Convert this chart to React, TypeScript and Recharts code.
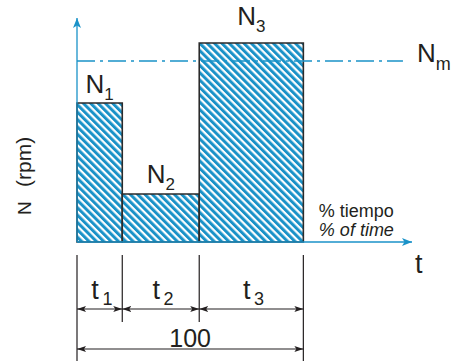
import React from "react";
import {
  ComposedChart,
  XAxis,
  YAxis,
  ReferenceArea,
  ReferenceLine,
  ReferenceDot,
} from "recharts";

const INK = "#231f20";
const BLUE = "#1a92c8";
const FONT = '"Liberation Sans", Arial, Helvetica, sans-serif';

// data
const segments = ["1", "2", "3"];
const timeShares = [20, 34, 46]; // % of time
const speeds = [139, 48, 199]; // N (rpm), arbitrary scale
const meanSpeed = 181;
const totalLabel = "100";
const timeAxisLabel = "t";
const timeCaption = ["% tiempo", "% of time"];
const speedAxisLabel = ["N", "(rpm)"];

// axis extents (arrow tips)
const X_MAX = 148;
const Y_MAX = 224;

const starts = timeShares.map((_, i) =>
  timeShares.slice(0, i).reduce((a, b) => a + b, 0)
);
const total = timeShares.reduce((a, b) => a + b, 0);
const edges = [...starts, total];
const rows = segments.map((s, i) => ({
  seg: s,
  start: starts[i],
  end: starts[i] + timeShares[i],
  speed: speeds[i],
}));

// layout constants (label lifts in y units)
const labelLift = [10, 11, 18];
const DIM_Y = -67;
const TOTAL_Y = -107;

type Part = { t: string; size: number; dy?: number; italic?: boolean };

const textAt =
  (parts: Part[], anchor: "start" | "middle" | "end" = "start", rotate = false) =>
  (p: any) =>
    (
      <text
        x={p.cx}
        y={p.cy}
        textAnchor={anchor}
        fill={INK}
        fontFamily={FONT}
        style={{ fontSize: parts[0].size }}
        transform={rotate ? `rotate(-90 ${p.cx} ${p.cy})` : undefined}
      >
        {parts.map((q, k) => (
          <tspan
            key={k}
            dy={q.dy}
            style={{ fontSize: q.size, fontStyle: q.italic ? "italic" : "normal" }}
          >
            {q.t}
          </tspan>
        ))}
      </text>
    );

const lineWith =
  (color: string, width: number, start?: string, end?: string, dash?: string) =>
  (p: any) =>
    (
      <line
        x1={p.x1}
        y1={p.y1}
        x2={p.x2}
        y2={p.y2}
        stroke={color}
        strokeWidth={width}
        strokeDasharray={dash}
        markerStart={start ? `url(#${start})` : undefined}
        markerEnd={end ? `url(#${end})` : undefined}
      />
    );

export default function App() {
  return (
    <div style={{ position: "absolute", left: 0, top: 0, background: "#fff" }}>
      <ComposedChart
        width={458}
        height={361}
        data={rows}
        margin={{ top: 18, right: 46, bottom: 119, left: 77 }}
      >
        <defs>
          <pattern
            id="hatch"
            patternUnits="userSpaceOnUse"
            width="5.2"
            height="5.2"
            patternTransform="rotate(-45)"
          >
            <rect width="5.2" height="5.2" fill="#fff" />
            <rect width="3" height="5.2" fill={BLUE} />
          </pattern>
          <marker
            id="blueArrow"
            markerUnits="userSpaceOnUse"
            markerWidth="11"
            markerHeight="8"
            refX="10"
            refY="4"
            orient="auto"
          >
            <path d="M0,0 L10,4 L0,8 L2.5,4 z" fill={BLUE} />
          </marker>
          <marker
            id="dimArrow"
            markerUnits="userSpaceOnUse"
            markerWidth="10"
            markerHeight="6"
            refX="9"
            refY="3"
            orient="auto-start-reverse"
          >
            <path d="M0,0 L9,3 L0,6 L2,3 z" fill={INK} />
          </marker>
        </defs>
        <XAxis type="number" dataKey="start" domain={[0, X_MAX]} hide allowDataOverflow />
        <YAxis type="number" domain={[0, Y_MAX]} hide allowDataOverflow />

        {/* axes with arrows */}
        <ReferenceLine
          segment={[{ x: 0, y: 0 }, { x: 0, y: Y_MAX }]}
          ifOverflow="visible"
          shape={lineWith(BLUE, 1.3, undefined, "blueArrow")}
        />
        <ReferenceLine
          segment={[{ x: 0, y: 0 }, { x: X_MAX, y: 0 }]}
          ifOverflow="visible"
          shape={lineWith(BLUE, 1.3, undefined, "blueArrow")}
        />

        {rows.map((r) => (
          <ReferenceArea
            key={r.seg}
            x1={r.start}
            x2={r.end}
            y1={0}
            y2={r.speed}
            fill="url(#hatch)"
            fillOpacity={1}
            stroke="#2b2b2b"
            strokeWidth={1.6}
            ifOverflow="visible"
          />
        ))}

        <ReferenceLine
          segment={[{ x: 0, y: meanSpeed }, { x: 144, y: meanSpeed }]}
          ifOverflow="visible"
          shape={lineWith(BLUE, 1.3, undefined, undefined, "18 5 3 5")}
        />

        {rows.map((r, i) => (
          <ReferenceDot
            key={"n" + r.seg}
            x={(r.start + r.end) / 2}
            y={r.speed + labelLift[i]}
            r={0}
            ifOverflow="visible"
            shape={textAt(
              [
                { t: "N", size: 26 },
                { t: r.seg, size: 17, dy: 7 },
              ],
              "middle"
            )}
          />
        ))}
        <ReferenceDot
          x={150.2}
          y={meanSpeed - 1}
          r={0}
          ifOverflow="visible"
          shape={textAt([
            { t: "N", size: 26 },
            { t: "m", size: 18, dy: 8 },
          ])}
        />
        <ReferenceDot
          x={140}
          y={25}
          r={0}
          ifOverflow="visible"
          shape={textAt([{ t: timeCaption[0], size: 18 }], "end")}
        />
        <ReferenceDot
          x={140}
          y={6}
          r={0}
          ifOverflow="visible"
          shape={textAt([{ t: timeCaption[1], size: 18, italic: true }], "end")}
        />
        <ReferenceDot
          x={149.3}
          y={-31}
          r={0}
          ifOverflow="visible"
          shape={textAt([{ t: timeAxisLabel, size: 27 }])}
        />
        <ReferenceDot
          x={-20.3}
          y={27}
          r={0}
          ifOverflow="visible"
          shape={textAt([{ t: speedAxisLabel[0], size: 19 }], "start", true)}
        />
        <ReferenceDot
          x={-20.3}
          y={55}
          r={0}
          ifOverflow="visible"
          shape={textAt([{ t: speedAxisLabel[1], size: 21 }], "start", true)}
        />

        {/* dimension lines */}
        {edges.map((e, i) => (
          <ReferenceLine
            key={"ext" + i}
            segment={[
              { x: e, y: -13 },
              { x: e, y: i === 0 || i === edges.length - 1 ? -125 : -80 },
            ]}
            ifOverflow="visible"
            shape={lineWith(INK, 1.2)}
          />
        ))}
        {rows.map((r) => (
          <ReferenceLine
            key={"dim" + r.seg}
            segment={[
              { x: r.start, y: DIM_Y },
              { x: r.end, y: DIM_Y },
            ]}
            ifOverflow="visible"
            shape={lineWith(INK, 1.2, "dimArrow", "dimArrow")}
          />
        ))}
        {rows.map((r) => (
          <ReferenceDot
            key={"t" + r.seg}
            x={(r.start + r.end) / 2 + 1}
            y={DIM_Y + 10}
            r={0}
            ifOverflow="visible"
            shape={textAt(
              [
                { t: "t", size: 27 },
                { t: "\u2009" + r.seg, size: 18, dy: 6 },
              ],
              "middle"
            )}
          />
        ))}
        <ReferenceLine
          segment={[
            { x: 0, y: TOTAL_Y },
            { x: total, y: TOTAL_Y },
          ]}
          ifOverflow="visible"
          shape={lineWith(INK, 1.2, "dimArrow", "dimArrow")}
        />
        <ReferenceDot
          x={total / 2}
          y={TOTAL_Y + 2}
          r={0}
          ifOverflow="visible"
          shape={textAt([{ t: totalLabel, size: 25 }], "middle")}
        />
      </ComposedChart>
    </div>
  );
}
